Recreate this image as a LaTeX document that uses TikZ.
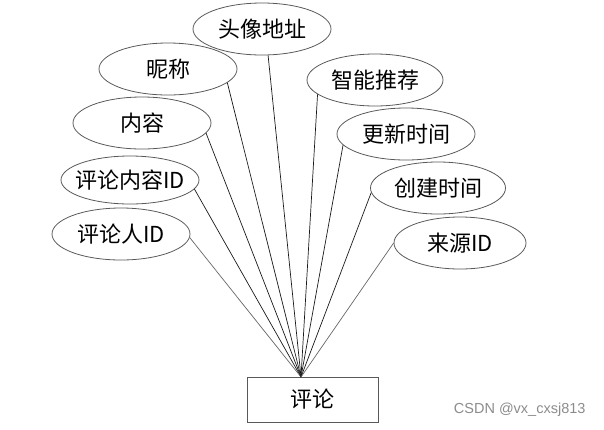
\documentclass[tikz,border=0pt]{standalone}
\usepackage{fontspec}
\newfontfamily\cjk{Noto Sans CJK SC}
\newfontfamily\wmfont{Liberation Sans}
\usetikzlibrary{shapes.geometric}
\begin{document}
\begin{tikzpicture}[x=1pt,y=-1pt,
  attr/.style={ellipse, draw=black!65, line width=0.8pt, minimum width=138pt, minimum height=52pt, inner sep=0pt, font=\cjk\fontsize{22}{26}\selectfont},
  ent/.style={rectangle, draw=black!65, line width=0.9pt, minimum width=131pt, minimum height=45pt, inner sep=0pt, font=\cjk\fontsize{22}{26}\selectfont},
  conn/.style={line width=0.7pt, black!90}]
\useasboundingbox (0,0) rectangle (604,429);
\node[attr] (a1) at (262,29) {头像地址};
\node[attr] (a2) at (168,69) {昵称};
\node[attr] (a3) at (142,123) {内容};
\node[attr, minimum height=48pt, inner xsep=-9pt] (a4) at (130,180) {评论内容ID};
\node[attr] (a5) at (121,234) {评论人ID};
\node[attr, minimum width=136pt] (b1) at (375,80) {智能推荐};
\node[attr] (b2) at (406,134) {更新时间};
\node[attr, minimum width=135pt] (b3) at (438,188) {创建时间};
\node[attr, minimum width=132pt] (b4) at (460,243) {来源ID};
\node[ent] (e) at (312.5,399.5) {评论};
\coordinate (hub) at (301,377);
\draw[conn] (a1.-77) -- (hub);
\draw[conn] (a2.-13) -- (hub);
\draw[conn] (a3.-9) -- (hub);
\draw[conn] (a4.-8) -- (hub);
\draw[conn, black!60] (a5.-3) -- (hub);
\draw[conn] (b1.194) -- (hub);
\draw[conn] (b2.190) -- (hub);
\draw[conn] (b3.184) -- (hub);
\draw[conn, black!60] (b4.180) -- (hub);
\node[font=\wmfont\fontsize{14.5}{16}\selectfont, text=black!45, anchor=east] (wm) at (589,410) {CSDN @vx\_cxsj813};
\end{tikzpicture}
\end{document}
